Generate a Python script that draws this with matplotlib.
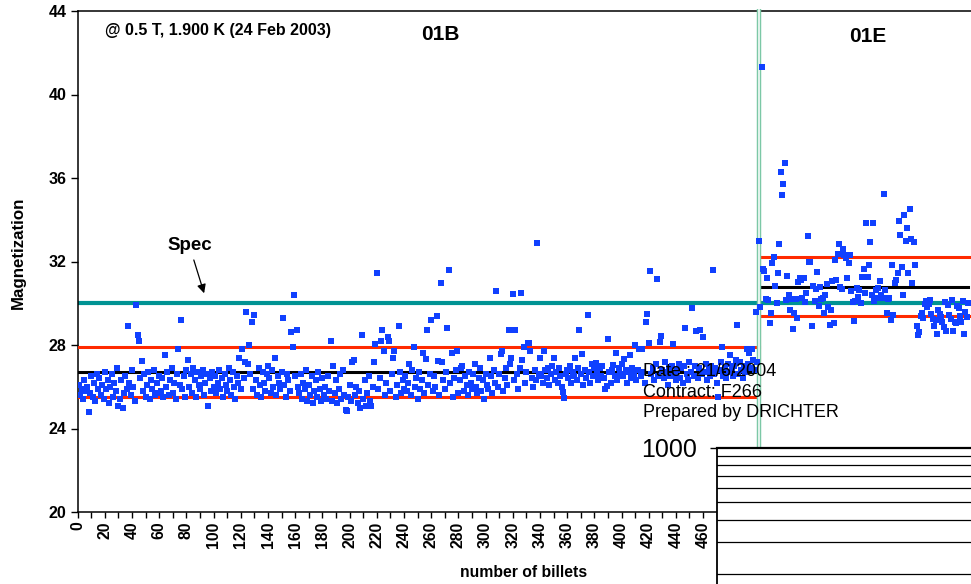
import numpy as np
import matplotlib.pyplot as plt

plt.rcParams.update({
    "font.family": ["Liberation Sans", "DejaVu Sans"],
    "font.size": 11,
    "axes.linewidth": 1.1,
})

# ---------------------------------------------------------------------------
# data
# ---------------------------------------------------------------------------
# lot 01B: one magnetization value per billet, billets 1..500
mag_01B = [
    26.1, 25.6, 25.9, 25.4, 26.3, 25.8, 26.0, 24.8, 25.7, 26.5, 25.5, 26.2, 25.3, 26.6, 25.9, 26.4, 25.6, 26.1, 25.4, 26.7,
    25.9, 26.3, 25.2, 26.0, 26.6, 25.5, 26.2, 25.8, 26.9, 25.1, 25.4, 26.3, 25.0, 25.7, 26.5, 25.9, 28.9, 26.2, 25.6, 26.8,
    26.0, 25.3, 29.9, 28.5, 28.2, 26.4, 27.25, 25.8, 26.6, 25.5, 26.1, 26.7, 25.4, 26.3, 25.9, 26.8, 25.6, 26.2, 25.7, 26.5,
    25.8, 26.4, 25.5, 27.5, 26.0, 26.7, 25.6, 26.3, 26.9, 25.7, 26.2, 25.4, 26.6, 27.8, 26.1, 29.2, 25.9, 26.5, 25.5, 26.8,
    27.3, 26.0, 26.6, 25.7, 26.9, 26.3, 25.5, 26.7, 26.1, 25.9, 26.5, 26.8, 25.6, 26.2, 26.6, 25.1, 26.4, 25.8, 26.7, 26.0,
    26.5, 25.7, 26.2, 26.8, 25.9, 26.4, 25.5, 26.6, 26.1, 25.8, 26.9, 26.3, 25.6, 26.7, 26.0, 25.4, 26.5, 26.2, 27.4, 25.9,
    27.8, 26.4, 27.2, 29.6, 27.1, 28.0, 26.6, 29.1, 25.9, 29.45, 26.3, 25.6, 26.9, 26.1, 25.5, 26.7, 26.2, 25.8, 26.6, 27.0,
    26.4, 25.7, 26.8, 26.0, 27.4, 25.6, 26.5, 26.2, 25.9, 26.7, 29.3, 26.1, 25.5, 26.6, 26.3, 25.8, 28.6, 27.9, 30.4, 26.5,
    28.7, 26.0, 25.7, 26.6, 25.4, 26.2, 25.9, 26.8, 25.3, 26.1, 25.6, 26.5, 25.2, 25.8, 26.3, 25.5, 26.7, 25.9, 25.3, 26.4,
    25.6, 26.0, 25.4, 26.5, 25.8, 28.2, 25.3, 27.0, 25.7, 26.3, 25.2, 25.9, 26.6, 25.4, 26.8, 25.6, 24.9, 24.85, 25.5, 26.1,
    25.3, 27.2, 27.3, 25.6, 26.0, 25.2, 25.8, 25.0, 28.5, 25.4, 26.3, 25.1, 25.7, 26.5, 25.3, 25.1, 26.0, 27.2, 28.05, 31.46,
    25.9, 26.4, 28.2, 28.7, 27.7, 25.6, 26.2, 28.4, 28.2, 25.8, 26.6, 27.4, 27.7, 25.5, 26.1, 28.9, 26.7, 25.7, 26.3, 25.9,
    26.5, 25.8, 26.2, 27.1, 25.6, 26.8, 27.9, 26.0, 26.4, 25.4, 26.7, 25.9, 26.3, 27.6, 25.7, 27.35, 28.7, 26.1, 26.6, 29.2,
    25.8, 26.5, 26.0, 29.4, 27.25, 25.6, 30.95, 27.2, 26.3, 25.9, 26.7, 28.8, 31.6, 26.2, 27.6, 25.5, 26.4, 26.8, 27.7, 25.7,
    26.3, 26.9, 27.0, 25.8, 26.5, 26.1, 25.6, 26.7, 26.2, 25.9, 26.6, 27.1, 26.0, 25.7, 26.4, 26.9, 25.8, 26.3, 25.4, 26.6,
    26.1, 25.9, 27.4, 26.5, 25.7, 26.8, 26.2, 30.6, 26.0, 26.6, 27.55, 27.7, 25.8, 26.4, 26.9, 26.1, 28.7, 27.1, 27.4, 30.45,
    26.3, 28.7, 26.6, 25.9, 26.9, 30.5, 27.3, 27.9, 26.2, 26.7, 28.1, 28.1, 27.7, 26.4, 26.0, 26.8, 26.3, 32.9, 26.6, 27.4,
    26.5, 26.2, 27.7, 26.8, 26.4, 26.9, 26.1, 26.6, 27.0, 27.4, 26.3, 26.7, 26.2, 26.9, 26.5, 26.0, 25.75, 25.45, 26.6, 26.8,
    26.4, 27.0, 26.2, 26.7, 26.5, 27.4, 26.3, 26.9, 28.7, 26.6, 27.55, 26.1, 26.8, 26.4, 29.45, 26.7, 26.2, 27.1, 26.5, 26.9,
    27.15, 26.6, 26.3, 26.9, 26.5, 27.0, 26.4, 25.9, 26.05, 28.3, 26.7, 26.2, 26.8, 27.05, 26.5, 27.6, 26.3, 26.9, 26.6, 27.1,
    26.5, 27.35, 26.8, 26.2, 26.7, 27.5, 26.4, 26.9, 26.6, 28.0, 26.3, 26.8, 27.8, 26.5, 27.8, 26.7, 26.2, 29.1, 29.5, 28.1,
    31.55, 26.6, 26.9, 26.3, 27.1, 31.15, 26.5, 28.15, 28.45, 26.8, 26.4, 27.2, 26.7, 26.1, 26.9, 26.5, 27.0, 28.05, 26.6, 26.3,
    26.8, 27.1, 26.4, 26.9, 26.2, 27.0, 28.8, 26.6, 26.3, 27.2, 26.7, 29.75, 26.5, 27.0, 28.65, 26.4, 26.9, 28.7, 26.6, 28.4,
    26.7, 27.1, 26.3, 26.8, 26.5, 27.0, 31.6, 26.6, 26.9, 26.2, 25.5, 26.8, 27.2, 27.9, 26.5, 26.9, 26.4, 27.1, 26.7, 27.5,
    26.9, 26.5, 27.0, 27.3, 28.95, 26.6, 27.2, 26.8, 26.4, 27.0, 26.7, 27.8, 27.1, 27.6, 26.9, 27.8, 27.3, 26.8, 29.6, 27.2,
]
billets_01B = np.arange(1, len(mag_01B) + 1)

# lot 01E: billets 501..655
billets_01E = np.arange(501, 656)
mag_01E = [
    33.0, 29.8, 41.3, 31.65, 31.55, 30.2, 31.2, 30.15, 29.05, 29.55,
    31.95, 32.2, 30.85, 30.0, 31.45, 32.85, 36.3, 35.2, 35.7, 36.7,
    30.15, 31.3, 30.4, 29.7, 30.2, 28.75, 29.55, 30.2, 29.3, 31.0,
    31.2, 31.1, 30.25, 31.2, 30.05, 30.5, 33.2, 32.0, 32.0, 28.9,
    30.85, 30.1, 30.7, 31.5, 29.85, 30.8, 30.2, 30.25, 29.55, 30.4,
    30.9, 29.8, 28.95, 29.7, 31.05, 29.05, 32.05, 31.1, 32.35, 32.85,
    30.8, 30.7, 32.6, 32.3, 32.15, 31.2, 31.95, 32.3, 30.6, 30.05,
    29.15, 30.1, 30.75, 30.3, 30.65, 30.0, 31.25, 31.65, 30.5, 33.85,
    31.25, 31.85, 32.95, 30.4, 33.85, 30.1, 30.65, 30.25, 30.75, 31.05,
    30.4, 30.25, 35.25, 30.65, 29.55, 30.2, 30.25, 29.2, 31.85, 29.45,
    30.95, 31.1, 31.45, 33.95, 33.25, 31.75, 30.4, 34.25, 33.0, 33.6,
    31.45, 34.5, 33.1, 30.95, 32.95, 31.85, 28.9, 28.5, 28.6, 29.4,
    29.55, 29.3, 29.95, 30.1, 29.8, 29.95, 30.15, 29.5, 29.25, 28.9,
    29.2, 28.55, 29.7, 29.5, 29.35, 29.1, 28.85, 30.05, 28.65, 29.9,
    29.45, 29.25, 30.15, 28.65, 29.1, 29.05, 29.85, 29.75, 29.4, 29.1,
    30.1, 28.55, 29.6, 29.35, 30.0,
]

lots = ["01B", "01E"]
lot_mean = [26.7, 30.8]
lot_upper = [27.9, 32.2]
lot_lower = [25.5, 29.4]
spec_value = 30.0
x_ticks = list(range(0, 461, 20))
y_ticks = [20, 24, 28, 32, 36, 40, 44]
table_grid = [900, 800, 700, 600, 500, 400, 300, 200]

# ---------------------------------------------------------------------------
W, H = 971, 584
fig = plt.figure(figsize=(W / 100, H / 100), dpi=100)
x_left, x_right_px, y_top, y_bot = 77.7, 975.0, 11.0, 512.0
ax_w_px, ax_h_px = x_right_px - x_left, y_bot - y_top
ax = fig.add_axes([x_left / W, (H - y_bot) / H, ax_w_px / W, ax_h_px / H])
ax.set_xlim(0, 660)
ax.set_ylim(20, 44)

split = 500.8
red = "#ff2a00"

# spec line
ax.axhline(spec_value, color="#009393", lw=3.0, zorder=2)

# control limits (red) and means (black)
ax.plot([0, split, split, 660], [lot_lower[0], lot_lower[0], lot_upper[1], lot_upper[1]],
        color=red, lw=2.2, zorder=3, solid_joinstyle="miter")
ax.plot([0, split], [lot_upper[0]] * 2, color=red, lw=2.2, zorder=3)
ax.plot([split, 660], [lot_lower[1]] * 2, color=red, lw=2.2, zorder=3)
ax.plot([0, split - 1], [lot_mean[0]] * 2, color="black", lw=2.2, zorder=3)
ax.plot([503, 655], [lot_mean[1]] * 2, color="black", lw=2.2, zorder=3)

# lot separator (double green line)
sep_bottom = 44 - (448 - y_top) / (ax_h_px / 24)
ax.vlines(split, sep_bottom, 44.1, color="#7cc8a6", lw=3.2, zorder=4, clip_on=False)
ax.vlines(split, sep_bottom, 44.1, color="white", lw=1.1, zorder=4, clip_on=False)

# measurements
ax.plot(billets_01B, mag_01B, "s", color="#1040ff", ms=4.3, mew=0, zorder=5)
ax.plot(billets_01E, mag_01E, "s", color="#1040ff", ms=4.3, mew=0, zorder=5)

# axes styling
ax.spines["right"].set_visible(False)
ax.set_xticks(x_ticks)
ax.set_xticklabels([str(t) for t in x_ticks], rotation=90, fontweight="bold", fontsize=11.3)
ax.set_xticks(np.arange(0, 661, 10), minor=True)
ax.set_yticks(y_ticks)
ax.set_yticklabels([str(t) for t in y_ticks], fontweight="bold", fontsize=11.5)
ax.tick_params(axis="x", which="both", direction="out", length=4, width=1, pad=3)
ax.tick_params(axis="y", which="major", direction="out", length=5, width=1, pad=3)
ax.set_xlabel("number of billets", fontweight="bold", fontsize=11.3)
ax.xaxis.set_label_coords(446 / ax_w_px, -(565 - y_bot) / ax_h_px, transform=ax.transAxes)
ax.set_ylabel("Magnetization", fontweight="bold", fontsize=12.2)
ax.yaxis.set_label_coords(-(x_left - 26) / ax_w_px, (y_bot - 253) / ax_h_px)

# annotations
fig.text(105 / W, 1 - 31 / H, "@ 0.5 T, 1.900 K (24 Feb 2003)", fontweight="bold",
         fontsize=11.5, va="center", ha="left")
fig.text(440 / W, 1 - 34 / H, lots[0], fontweight="bold", fontsize=15, ha="center", va="center")
fig.text(868 / W, 1 - 36 / H, lots[1], fontweight="bold", fontsize=15, ha="center", va="center")
ax.annotate("", xy=(93.6, 30.35), xytext=(84.8, 32.2),
            arrowprops=dict(arrowstyle="-|>", color="black", lw=0.9, mutation_scale=13), zorder=6)
fig.text(190 / W, 1 - 246 / H, "Spec", fontweight="bold", fontsize=13.5, ha="center", va="center")

for i, line in enumerate(["Date : 21/6/2004", "Contract: F266", "Prepared by DRICHTER"]):
    fig.text(643 / W, 1 - (371.5 + 20.7 * i) / H, line, fontsize=13, ha="left", va="center", zorder=10)

# leftover chart-object table in the lower right corner
t_left, t_top = 717.0, 448.0
px_per_decade = 180.0
t_ymin = 150
t_h = px_per_decade * np.log10(1000 / t_ymin)
tab = fig.add_axes([t_left / W, (H - t_top - t_h) / H, (1010 - t_left) / W, t_h / H])
tab.set_yscale("log")
tab.set_ylim(t_ymin, 1000)
tab.set_xlim(0, 1)
tab.set_facecolor("white")
for g in table_grid:
    tab.axhline(g, color="black", lw=0.9)
for s in ["right", "bottom"]:
    tab.spines[s].set_visible(False)
tab.spines["top"].set_linewidth(1.6)
tab.spines["left"].set_linewidth(1.3)
tab.set_xticks([])
tab.set_yticks([1000])
tab.set_yticklabels(["1000"], fontsize=18)
tab.yaxis.set_minor_locator(plt.NullLocator())
tab.tick_params(axis="y", length=5, width=1, pad=9.4)

fig.savefig("out.png", dpi=100)
